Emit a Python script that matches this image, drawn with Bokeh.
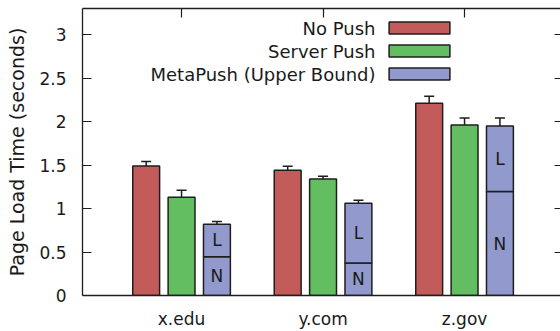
from bokeh.plotting import figure
from bokeh.models import (Range1d, FixedTicker, LinearAxis, Whisker, TeeHead,
                          ColumnDataSource, Legend, LegendItem, Label)
from bokeh.core.properties import value
from bokeh.embed import file_html
from bokeh.resources import INLINE

# ---- data ----
categories = ["x.edu", "y.com", "z.gov"]
no_push = [1.49, 1.44, 2.21]
no_push_err = [0.05, 0.045, 0.08]
server_push = [1.13, 1.34, 1.96]
server_push_err = [0.08, 0.03, 0.08]
metapush = [0.82, 1.06, 1.95]
metapush_err = [0.03, 0.035, 0.09]
metapush_network = [0.445, 0.375, 1.195]   # "N" part; remainder is "L"
y_ticks = [0, 0.5, 1, 1.5, 2, 2.5, 3]
y_tick_labels = ["0", "0.5", "1", "1.5", "2", "2.5", "3"]
series_names = ["No Push", "Server Push", "MetaPush (Upper Bound)"]

FONT = "DejaVu Sans"
RED, GREEN, BLUE = "#c35b5b", "#63bd61", "#9199cd"
EDGE = "#1e1e1e"
OFF, BW = 0.25, 0.19

idx = list(range(len(categories)))
src = ColumnDataSource(dict(
    xr=[i - OFF for i in idx], xg=list(idx), xb=[i + OFF for i in idx],
    red=no_push, green=server_push, blue=metapush, net=metapush_network,
    red_up=[v + e for v, e in zip(no_push, no_push_err)],
    red_lo=[v - e for v, e in zip(no_push, no_push_err)],
    green_up=[v + e for v, e in zip(server_push, server_push_err)],
    green_lo=[v - e for v, e in zip(server_push, server_push_err)],
    blue_up=[v + e for v, e in zip(metapush, metapush_err)],
    blue_lo=[v - e for v, e in zip(metapush, metapush_err)],
    n_mid=[n / 2 for n in metapush_network],
    l_mid=[(n + t) / 2 for n, t in zip(metapush_network, metapush)],
    n_txt=["N"] * 3, l_txt=["L"] * 3,
))

p = figure(width=560, height=331, x_range=Range1d(-0.7, 2.678),
           y_range=Range1d(0, 3.3), output_backend="svg", toolbar_location=None,
           min_border_left=82, min_border_right=0, min_border_top=8,
           min_border_bottom=34)
p.outline_line_color = None
p.grid.visible = False
p.background_fill_color = "white"
p.border_fill_color = "white"

def style_axis(ax):
    ax.axis_line_color = EDGE
    ax.axis_line_width = 1.3
    ax.major_tick_line_color = EDGE
    ax.major_tick_line_width = 1.2
    ax.minor_tick_line_color = None
    ax.major_tick_out = 0
    ax.major_label_text_font = FONT
    ax.major_label_text_font_size = "17px"
    ax.major_label_text_color = "#1a1a1a"

# bottom axis
xa = p.xaxis[0]
style_axis(xa)
xa.ticker = FixedTicker(ticks=idx)
xa.major_label_overrides = {i: c for i, c in zip(idx, categories)}
xa.major_tick_in = 0
xa.major_label_standoff = 13

# left axis
ya = p.yaxis[0]
style_axis(ya)
ya.ticker = FixedTicker(ticks=y_ticks)
ya.major_label_overrides = {t: l for t, l in zip(y_ticks, y_tick_labels)}
ya.major_tick_in = 9
ya.major_label_standoff = 16
ya.axis_label = "Page Load Time (seconds)"
ya.axis_label_text_font = FONT
ya.axis_label_text_font_size = "19px"
ya.axis_label_text_font_style = "normal"
ya.axis_label_text_color = "#1a1a1a"
ya.axis_label_standoff = 8

# top axis (frame line + category ticks)
top = LinearAxis(ticker=FixedTicker(ticks=idx),
                 major_label_overrides={i: "" for i in idx})
style_axis(top)
top.major_tick_in = 9
top.major_label_text_font_size = "0px"
top.major_label_standoff = 0
p.add_layout(top, "above")

# right axis (ticks only, frame edge is cut off)
right = LinearAxis(ticker=FixedTicker(ticks=y_ticks),
                   major_label_overrides={t: "" for t in y_ticks})
style_axis(right)
right.axis_line_color = None
right.major_tick_in = 6
right.major_label_text_font_size = "0px"
right.major_label_standoff = 0
p.add_layout(right, "right")

# bars
r_red = p.vbar(x="xr", top="red", width=BW, source=src, fill_color=RED,
               line_color=EDGE, line_width=1.5)
r_green = p.vbar(x="xg", top="green", width=BW, source=src, fill_color=GREEN,
                 line_color=EDGE, line_width=1.5)
r_bn = p.vbar(x="xb", bottom=0, top="net", width=BW, source=src,
              fill_color=BLUE, line_color=EDGE, line_width=1.5)
r_bl = p.vbar(x="xb", bottom="net", top="blue", width=BW, source=src,
              fill_color=BLUE, line_color=EDGE, line_width=1.5)

# error bars
for base, up, lo in (("xr", "red_up", "red_lo"), ("xg", "green_up", "green_lo"),
                     ("xb", "blue_up", "blue_lo")):
    w = Whisker(base=base, upper=up, lower=lo, source=src,
                line_color=EDGE, line_width=1.5,
                upper_head=TeeHead(size=10, line_color=EDGE, line_width=1.5),
                lower_head=TeeHead(size=10, line_color=EDGE, line_width=1.5))
    p.add_layout(w)

# N / L labels
for yy, tt in (("n_mid", "n_txt"), ("l_mid", "l_txt")):
    p.text(x="xb", y=yy, text=tt, source=src, text_font=value(FONT),
           text_font_size="17px", text_align="center", text_baseline="middle",
           text_color="#1a1a1a")

# legend: boxes on the right, right-aligned names on the left
leg = Legend(items=[LegendItem(label=" ", renderers=[r]) for r in (r_red, r_green, r_bn)],
             location=(299, 214), orientation="vertical",
             glyph_width=76, glyph_height=15, label_width=0, label_height=15,
             label_standoff=0, label_text_font_size="1px", spacing=8,
             padding=0, margin=0, border_line_color=None,
             background_fill_alpha=0)
p.add_layout(leg, "center")

for k, name in enumerate(series_names):
    p.add_layout(Label(x=293, y=267 - 23 * k, x_units="screen", y_units="screen",
                       text=name, text_align="right", text_baseline="middle",
                       text_font=FONT, text_font_size="18px",
                       text_color="#1a1a1a"))

open("out.html", "w").write(file_html(p, INLINE))
